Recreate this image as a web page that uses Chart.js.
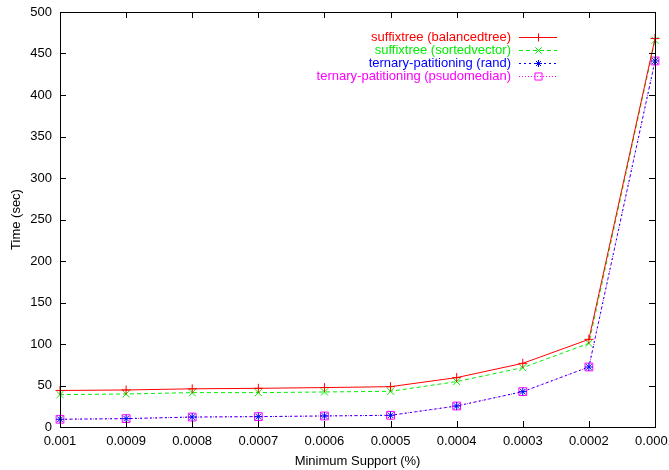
<!DOCTYPE html>
<html>
<head>
<meta charset="utf-8">
<script src="https://cdn.jsdelivr.net/npm/chart.js@4"></script>
<style>
  html, body { margin: 0; padding: 0; background: #fff; }
  #wrap { width: 669px; height: 470px; }
</style>
</head>
<body>
<div id="wrap"><canvas id="chart" width="669" height="470"></canvas></div>
<script>
// Minimum support values (x axis, decreasing)
const supports = ['0.001', '0.0009', '0.0008', '0.0007', '0.0006', '0.0005', '0.0004', '0.0003', '0.0002', '0.0001'];

// Running times in seconds
const balancedTree = [44, 44.6, 46, 46.6, 47.5, 48.6, 59.5, 76.7, 105.6, 468];
const sortedVector = [39, 39.8, 41.4, 41.4, 42.2, 43, 54.7, 71.5, 100.8, 466];
const ternaryRand = [9.3, 10.1, 12, 12.5, 13.3, 14.1, 25.3, 42.6, 72.3, 441];
const ternaryPsudo = [9.3, 10.1, 12, 12.5, 13.3, 14.1, 25.3, 42.6, 72.3, 441];

const yTicks = [0, 50, 100, 150, 200, 250, 300, 350, 400, 450, 500];

const FONT = 'Liberation Sans, Arial, sans-serif';

function series(label, values, color, dash, style, radius) {
    return {
        label: label,
        data: values,
        borderColor: color,
        backgroundColor: 'transparent',
        borderWidth: 1,
        borderDash: dash,
        pointStyle: style,
        pointRadius: radius,
        pointBorderColor: color,
        pointBackgroundColor: 'transparent',
        pointBorderWidth: 1,
        tension: 0,
        clip: false
    };
}

// gnuplot-like frame with inward ticks on all four sides
const framePlugin = {
    id: 'frame',
    afterDraw(chart) {
        const { ctx, chartArea: a, scales } = chart;
        ctx.save();
        ctx.strokeStyle = '#000';
        ctx.lineWidth = 1;
        ctx.strokeRect(a.left + 0.5, a.top + 0.5, a.right - a.left, a.bottom - a.top);
        ctx.beginPath();
        yTicks.forEach(v => {
            const y = Math.round(scales.y.getPixelForValue(v)) + 0.5;
            ctx.moveTo(a.left, y); ctx.lineTo(a.left + 6, y);
            ctx.moveTo(a.right, y); ctx.lineTo(a.right - 6, y);
        });
        supports.forEach((s, i) => {
            const x = Math.round(scales.x.getPixelForValue(i)) + 0.5;
            ctx.moveTo(x, a.bottom); ctx.lineTo(x, a.bottom - 6);
            ctx.moveTo(x, a.top); ctx.lineTo(x, a.top + 6);
        });
        ctx.stroke();
        ctx.restore();
    }
};

// key in the top right corner, text right aligned before the line sample
const keyPlugin = {
    id: 'key',
    afterDatasetsDraw(chart) {
        const { ctx } = chart;
        ctx.save();
        ctx.font = '13px ' + FONT;
        ctx.textAlign = 'right';
        ctx.textBaseline = 'middle';
        chart.data.datasets.forEach((ds, i) => {
            const y = 37 + i * 13;
            ctx.fillStyle = ds.borderColor;
            ctx.fillText(ds.label, 511, y);
            ctx.strokeStyle = ds.borderColor;
            ctx.lineWidth = 1;
            ctx.setLineDash(ds.borderDash);
            ctx.beginPath();
            ctx.moveTo(519, y + 0.5);
            ctx.lineTo(557, y + 0.5);
            ctx.stroke();
            ctx.setLineDash([]);
            ctx.fillStyle = 'transparent';
            Chart.helpers.drawPoint(ctx, {
                pointStyle: ds.pointStyle, radius: ds.pointRadius - 0.5, rotation: 0, borderWidth: 1
            }, 538.5, y + 0.5);
        });
        ctx.restore();
    }
};

new Chart(document.getElementById('chart'), {
    type: 'line',
    data: {
        labels: supports,
        datasets: [
            series('suffixtree (balancedtree)', balancedTree, '#ff0000', [], 'cross', 4.5),
            series('suffixtree (sortedvector)', sortedVector, '#00ee00', [4, 3], 'crossRot', 5),
            series('ternary-patitioning (rand)', ternaryRand, '#0000ff', [2, 3], 'star', 4),
            series('ternary-patitioning (psudomedian)', ternaryPsudo, '#ff00ff', [1, 2], 'rect', 5.5)
        ]
    },
    options: {
        responsive: false,
        animation: false,
        layout: { padding: { top: 12, right: 14, left: 0, bottom: 0 } },
        plugins: {
            legend: { display: false },
            tooltip: { enabled: false }
        },
        scales: {
            x: {
                type: 'category',
                offset: false,
                grid: { display: false, drawTicks: false },
                border: { display: false },
                ticks: {
                    color: '#000',
                    font: { family: FONT, size: 13 },
                    maxRotation: 0,
                    autoSkip: false,
                    padding: 7
                },
                title: {
                    display: true,
                    text: 'Minimum Support (%)',
                    color: '#000',
                    font: { family: FONT, size: 13 },
                    padding: { top: 4, bottom: 1 }
                },
                afterFit(scale) {
                    scale.height = 43;
                    scale.paddingLeft = 0;
                    scale.paddingRight = 0;
                }
            },
            y: {
                min: 0,
                max: 500,
                grid: { display: false, drawTicks: false },
                border: { display: false },
                afterBuildTicks(scale) {
                    scale.ticks = yTicks.map(v => ({ value: v }));
                },
                ticks: {
                    color: '#000',
                    font: { family: FONT, size: 13 },
                    padding: 8
                },
                title: {
                    display: true,
                    text: 'Time (sec)',
                    color: '#000',
                    font: { family: FONT, size: 13 },
                    padding: { top: 9, bottom: 5 }
                },
                afterFit(scale) {
                    scale.width = 60;
                    scale.paddingTop = 0;
                    scale.paddingBottom = 0;
                }
            }
        }
    },
    plugins: [framePlugin, keyPlugin]
});
</script>
</body>
</html>
